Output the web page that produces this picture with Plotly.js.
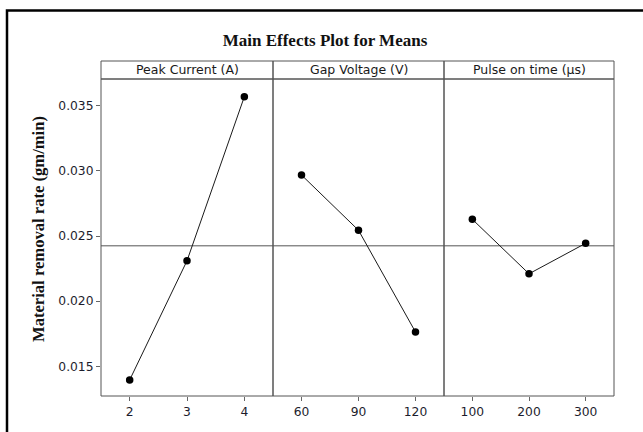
<!DOCTYPE html>
<html>
<head>
<meta charset="utf-8">
<script src="https://cdn.plot.ly/plotly-3.0.1.min.js"></script>
<style>html,body{margin:0;padding:0;background:#fff;}#chart{width:643px;height:432px;}</style>
</head>
<body>
<div id="chart"></div>
<script>
const factorNames = ["Peak Current (A)", "Gap Voltage (V)", "Pulse on time (µs)"];
const peakLevels = [2, 3, 4];
const peakMeans = [0.01395, 0.02310, 0.03569];
const gapLevels = [60, 90, 120];
const gapMeans = [0.02968, 0.02544, 0.01763];
const pulseLevels = [100, 200, 300];
const pulseMeans = [0.02628, 0.02210, 0.02444];
const yTicks = [0.015, 0.020, 0.025, 0.030, 0.035];
const yTickText = ["0.015", "0.020", "0.025", "0.030", "0.035"];

const grandMean = (peakMeans[0] + peakMeans[1] + peakMeans[2]) / 3;

const W = 643, H = 432;
const L = 101, R = 614, T = 61, B = 396, stripBottom = 79;
const pw = R - L, ph = B - T;
const px = v => (v - L) / pw;
const py = v => (B - v) / ph;
const d1 = px(273), d2 = px(444);
const domTop = py(stripBottom);

function trace(x, y, xa) {
  return {x: x, y: y, xaxis: xa, yaxis: 'y', type: 'scatter', mode: 'lines+markers',
    line: {color: '#1a1a1a', width: 1},
    marker: {color: '#000', size: 7.5, symbol: 'circle'},
    hoverinfo: 'skip', showlegend: false};
}
const data = [
  trace(peakLevels, peakMeans, 'x'),
  trace(gapLevels, gapMeans, 'x2'),
  trace(pulseLevels, pulseMeans, 'x3')
];

const tickFont = {family: 'DejaVu Sans, sans-serif', size: 12.3, color: '#1c1c2c'};
function xax(dom, levels, rng) {
  return {domain: dom, anchor: 'y', range: rng, tickvals: levels, ticktext: levels.map(String),
    showgrid: false, zeroline: false, showline: false, ticks: 'outside', ticklen: 4,
    tickcolor: '#666', tickwidth: 1, tickfont: tickFont, fixedrange: true};
}

const shapes = [];
const doms = [[0, d1], [d1, d2], [d2, 1]];
doms.forEach(d => {
  shapes.push({type: 'rect', xref: 'paper', yref: 'paper', x0: d[0], x1: d[1], y0: 0, y1: domTop,
    line: {color: '#555', width: 1}, fillcolor: 'rgba(0,0,0,0)', layer: 'above'});
  shapes.push({type: 'rect', xref: 'paper', yref: 'paper', x0: d[0], x1: d[1], y0: domTop, y1: 1,
    line: {color: '#555', width: 1}, fillcolor: 'rgba(0,0,0,0)', layer: 'above'});
});
shapes.push({type: 'line', xref: 'paper', yref: 'y', x0: 0, x1: 1, y0: grandMean, y1: grandMean,
  line: {color: '#555', width: 1}, layer: 'below'});
// outer frame
shapes.push({type: 'rect', xref: 'paper', yref: 'paper', x0: px(7), x1: px(660), y0: py(10.5), y1: py(450),
  line: {color: '#000', width: 2.5}, fillcolor: 'rgba(0,0,0,0)', layer: 'above'});

const annotations = factorNames.map((n, i) => ({
  text: n, xref: 'paper', yref: 'paper', x: (doms[i][0] + doms[i][1]) / 2, y: (domTop + 1) / 2,
  showarrow: false, xanchor: 'center', yanchor: 'middle',
  font: {family: 'DejaVu Sans, sans-serif', size: 12.5, color: '#1a1a1a'}
}));
annotations.push({
  text: '<b>Material removal rate (gm/min)</b>', xref: 'paper', yref: 'paper',
  x: px(38), y: py(229), textangle: -90, showarrow: false, xanchor: 'center', yanchor: 'middle',
  font: {family: 'Liberation Serif, Times New Roman, serif', size: 16.6, color: '#111'}
});

const layout = {
  width: W, height: H,
  margin: {l: L, r: W - R, t: T, b: H - B, pad: 0},
  paper_bgcolor: '#fff', plot_bgcolor: '#fff',
  title: {text: '<b>Main Effects Plot for Means</b>', x: 325 / W, xref: 'container', xanchor: 'center',
    y: 1 - 40 / H, yref: 'container', yanchor: 'middle',
    font: {family: 'Liberation Serif, Times New Roman, serif', size: 17, color: '#111'}},
  xaxis: xax([0, d1], peakLevels, [1.5, 4.5]),
  xaxis2: xax([d1, d2], gapLevels, [45, 135]),
  xaxis3: xax([d2, 1], pulseLevels, [50, 350]),
  yaxis: {domain: [0, domTop], anchor: 'x', range: [0.01272, 0.03705], tickvals: yTicks, ticktext: yTickText,
    showgrid: false, zeroline: false, showline: false, ticks: 'outside', ticklen: 4,
    tickcolor: '#666', tickwidth: 1, tickfont: tickFont, fixedrange: true},
  shapes: shapes,
  annotations: annotations,
  showlegend: false
};

Plotly.newPlot('chart', data, layout, {displayModeBar: false, staticPlot: true});
</script>
</body>
</html>
